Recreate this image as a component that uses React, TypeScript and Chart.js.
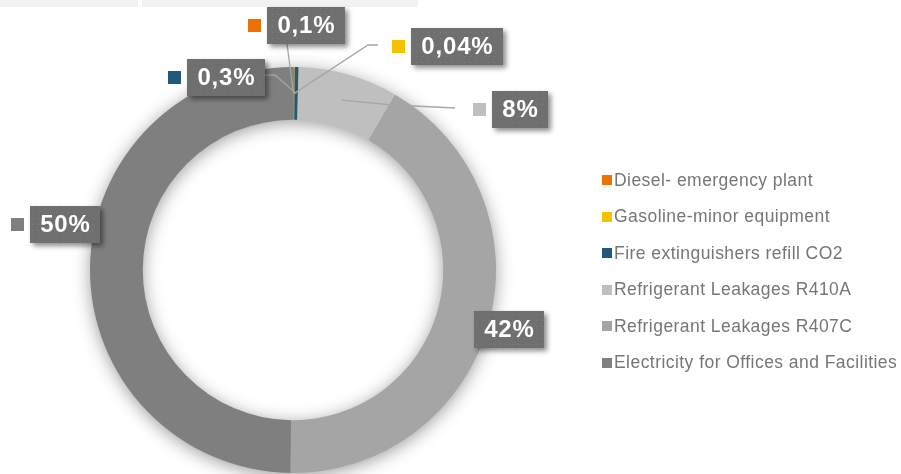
import React, { useEffect, useRef } from "react";
import { Chart, registerables } from "chart.js";

Chart.register(...registerables);

const CATEGORIES = [
  "Diesel- emergency plant",
  "Gasoline-minor equipment",
  "Fire extinguishers refill CO2",
  "Refrigerant Leakages R410A",
  "Refrigerant Leakages R407C",
  "Electricity for Offices and Facilities",
];
const VALUES = [0.1, 0.04, 0.3, 8, 42, 50];
const PCT_LABELS = ["0,1%", "0,04%", "0,3%", "8%", "42%", "50%"];
const COLORS = ["#EE7203", "#F5C200", "#1F5A7A", "#BFBFBF", "#A5A5A5", "#7F7F7F"];

// label box centres, relative to the doughnut centre
const LABEL_OFFSETS = [
  [13, -245],
  [164, -224],
  [-67, -193],
  [227, -161],
  [216, 59],
  [-228, -46],
];
// leader line waypoints, relative to the doughnut centre
const LEADERS: number[][][] = [
  [[-6, -226]],
  [[75, -225], [85, -225]],
  [[-18, -195], [-28, -195]],
  [[100, -165], [162, -162]],
  [],
  [],
];

const FONT = "'Liberation Sans', Arial, sans-serif";

function makePattern(ctx: CanvasRenderingContext2D) {
  const c = document.createElement("canvas");
  c.width = 6;
  c.height = 6;
  const p = c.getContext("2d")!;
  p.fillStyle = "#6f6f6f";
  p.fillRect(0, 0, 6, 6);
  p.fillStyle = "#7e7e7e";
  p.fillRect(2, 2, 1, 1);
  return ctx.createPattern(c, "repeat");
}

const decorPlugin = {
  id: "decor",
  beforeDatasetsDraw(chart: any) {
    const meta = chart.getDatasetMeta(0);
    const arc = meta.data[0];
    if (!arc) return;
    const { x, y, outerRadius, innerRadius } = arc.getProps(["x", "y", "outerRadius", "innerRadius"], true);
    const ctx = chart.ctx as CanvasRenderingContext2D;
    ctx.save();
    ctx.shadowColor = "rgba(0,0,0,0.42)";
    ctx.shadowBlur = 18;
    ctx.shadowOffsetX = 0;
    ctx.shadowOffsetY = 3;
    ctx.beginPath();
    ctx.arc(x, y, outerRadius - 1, 0, Math.PI * 2);
    ctx.arc(x, y, innerRadius + 1, 0, Math.PI * 2, true);
    ctx.closePath();
    ctx.fillStyle = "#909090";
    ctx.fill();
    ctx.restore();
  },
  afterDatasetsDraw(chart: any) {
    const ctx = chart.ctx as CanvasRenderingContext2D;
    const meta = chart.getDatasetMeta(0);
    const first = meta.data[0];
    const cx = first.x;
    const cy = first.y;
    const pattern = makePattern(ctx);

    // leader lines
    ctx.save();
    ctx.strokeStyle = "#a6a6a6";
    ctx.lineWidth = 1.3;
    meta.data.forEach((arc: any, i: number) => {
      const pts = LEADERS[i];
      if (!pts.length) return;
      const c = arc.getCenterPoint();
      ctx.beginPath();
      ctx.moveTo(c.x, c.y);
      pts.forEach((p) => ctx.lineTo(cx + p[0], cy + p[1]));
      ctx.stroke();
    });
    ctx.restore();

    // label boxes
    meta.data.forEach((_arc: any, i: number) => {
      const bx = cx + LABEL_OFFSETS[i][0];
      const by = cy + LABEL_OFFSETS[i][1];
      ctx.save();
      ctx.font = `bold 24px ${FONT}`;
      (ctx as any).letterSpacing = "0.8px";
      const tw = ctx.measureText(PCT_LABELS[i]).width;
      const w = Math.round(tw + 20);
      const h = 37;
      const x0 = Math.round(bx - w / 2);
      const y0 = Math.round(by - h / 2);
      ctx.save();
      ctx.shadowColor = "rgba(0,0,0,0.45)";
      ctx.shadowBlur = 5;
      ctx.shadowOffsetX = 3;
      ctx.shadowOffsetY = 3;
      ctx.fillStyle = "#6f6f6f";
      ctx.fillRect(x0, y0, w, h);
      ctx.restore();
      if (pattern) {
        ctx.fillStyle = pattern;
        ctx.fillRect(x0, y0, w, h);
      }
      ctx.fillStyle = "#ffffff";
      ctx.textAlign = "center";
      ctx.textBaseline = "middle";
      ctx.fillText(PCT_LABELS[i], bx + 0.4, by + 1);
      // marker
      ctx.fillStyle = COLORS[i];
      ctx.fillRect(x0 - 19, Math.round(by - 6.5), 13, 13);
      ctx.restore();
    });

    // legend
    ctx.save();
    ctx.font = `17.5px ${FONT}`;
    (ctx as any).letterSpacing = "0.45px";
    ctx.textBaseline = "middle";
    ctx.textAlign = "left";
    CATEGORIES.forEach((name, i) => {
      const yy = 180 + i * 36.5;
      ctx.fillStyle = COLORS[i];
      ctx.fillRect(602, Math.round(yy - 5), 10, 10);
      ctx.fillStyle = "#767676";
      ctx.fillText(name, 614, yy + 1);
    });
    ctx.restore();
  },
};

export default function App() {
  const ref = useRef<HTMLCanvasElement | null>(null);
  useEffect(() => {
    if (!ref.current) return;
    const chart = new Chart(ref.current, {
      type: "doughnut",
      data: {
        labels: CATEGORIES,
        datasets: [
          {
            data: VALUES,
            backgroundColor: COLORS,
            borderWidth: 0,
          },
        ],
      },
      options: {
        responsive: false,
        animation: false,
        devicePixelRatio: 1,
        cutout: "74%",
        layout: { padding: { left: 90, right: 405, top: 67, bottom: 1 } },
        plugins: {
          legend: { display: false },
          tooltip: { enabled: false },
        },
      },
      plugins: [decorPlugin],
    });
    return () => chart.destroy();
  }, []);
  return (
    <div style={{ position: "absolute", left: 0, top: 0, width: 901, height: 474, background: "#ffffff" }}>
      <div style={{ position: "absolute", left: 0, top: 0, width: 138, height: 7, background: "#f2f2f2" }} />
      <div style={{ position: "absolute", left: 142, top: 0, width: 276, height: 7, background: "#f2f2f2" }} />
      <canvas ref={ref} width={901} height={474} style={{ position: "absolute", left: 0, top: 0, width: 901, height: 474 }} />
    </div>
  );
}
